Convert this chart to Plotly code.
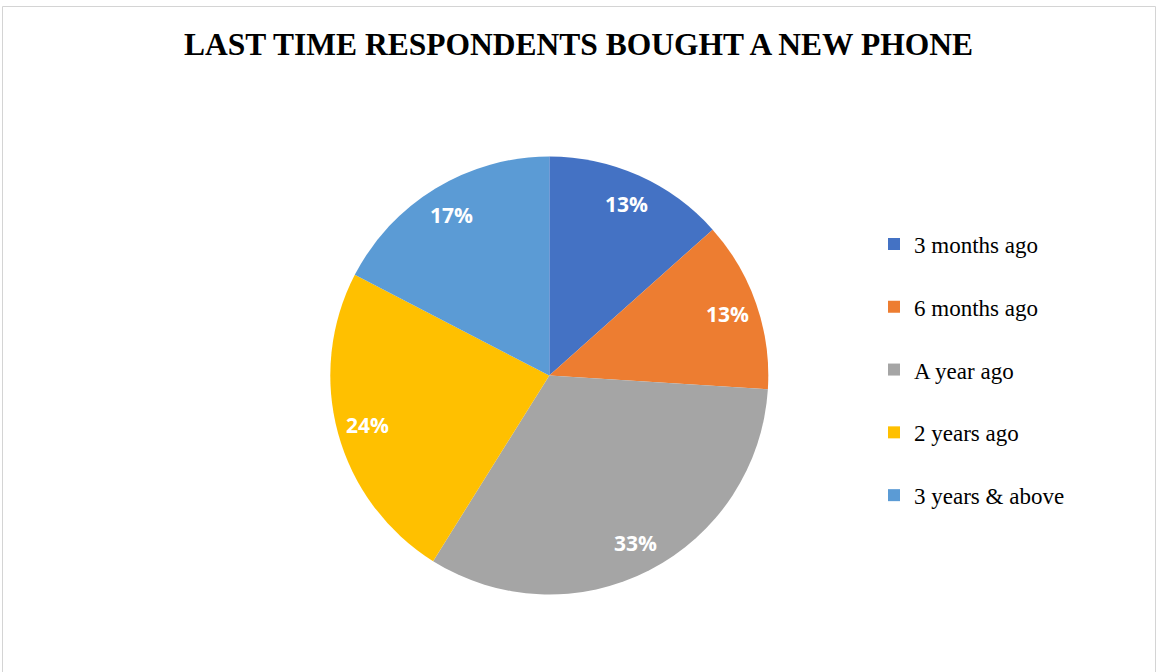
import math
import plotly.graph_objects as go

# ---- data ----
categories = ["3 months ago", "6 months ago", "A year ago", "2 years ago", "3 years & above"]
shares = [13.4, 12.6, 32.9, 23.7, 17.4]
colors = ["#4472C4", "#ED7D31", "#A5A5A5", "#FFC000", "#5B9BD5"]
title_text = "LAST TIME RESPONDENTS BOUGHT A NEW PHONE"

# ---- layout geometry (pixels) ----
W, H = 1157, 672
cx, cy, R = 549.3, 375.5, 219.0
LABEL_R = 0.86

serif = "Times New Roman, Liberation Serif, serif"

fig = go.Figure()
fig.add_trace(go.Pie(
    labels=[c + "<br> " for c in categories],
    values=shares,
    customdata=categories,
    hovertemplate="%{customdata}: %{percent}<extra></extra>",
    sort=False,
    direction="clockwise",
    rotation=0,
    marker=dict(colors=colors, line=dict(width=0)),
    textinfo="none",
    domain=dict(x=[(cx - R) / W, (cx + R) / W], y=[1 - (cy + R) / H, 1 - (cy - R) / H]),
))

# percentage labels placed at each slice's mid-angle
total = sum(shares)
annotations = []
cum = 0.0
for v in shares:
    mid = (cum + v / 2) / total * 2 * math.pi
    cum += v
    px = cx + LABEL_R * R * math.sin(mid)
    py = cy - LABEL_R * R * math.cos(mid)
    annotations.append(dict(
        x=px / W, y=1 - py / H, xref="paper", yref="paper",
        text=f"{round(100 * v / total)}%", showarrow=False,
        xanchor="center", yanchor="middle",
        font=dict(family="Open Sans, sans-serif", size=21, color="white", weight="bold"),
    ))

fig.update_layout(
    width=W, height=H,
    margin=dict(l=0, r=0, t=0, b=0),
    paper_bgcolor="white",
    plot_bgcolor="white",
    title=dict(
        text=title_text, x=0.5, xanchor="center", xref="paper",
        y=1 - 43.5 / H, yanchor="middle", yref="paper",
        font=dict(family=serif, size=31.5, color="black", weight="bold"),
    ),
    legend=dict(
        x=874 / W, xanchor="left", y=1 - 222.5 / H, yanchor="top",
        valign="top", traceorder="normal",
        font=dict(family=serif, size=23, color="black"),
        bgcolor="rgba(0,0,0,0)", borderwidth=0,
    ),
    annotations=annotations,
    shapes=[dict(
        type="rect", xref="paper", yref="paper",
        x0=2.5 / W, x1=1155.5 / W, y0=-0.05, y1=1 - 6.5 / H,
        line=dict(color="#d4d4d4", width=1), fillcolor="rgba(0,0,0,0)", layer="below",
    )],
)

fig.write_html("out.html")
